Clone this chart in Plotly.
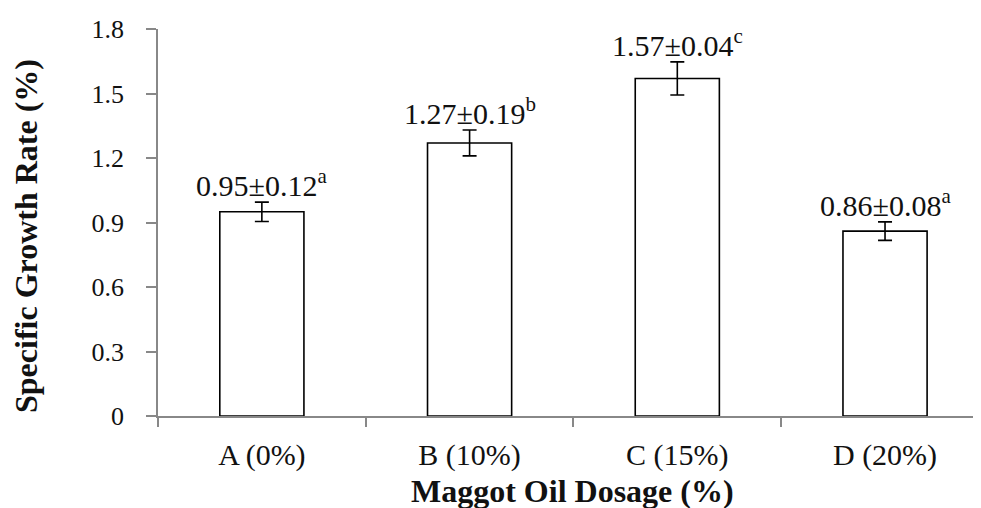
import plotly.graph_objects as go

categories = ["A (0%)", "B (10%)", "C (15%)", "D (20%)"]
means = [0.95, 1.27, 1.57, 0.86]
err_drawn = [0.045, 0.06, 0.077, 0.043]
label_sd = ["0.12", "0.19", "0.04", "0.08"]
label_letters = ["a", "b", "c", "a"]
y_ticks = [0, 0.3, 0.6, 0.9, 1.2, 1.5, 1.8]
y_tick_text = ["0", "0.3", "0.6", "0.9", "1.2", "1.5", "1.8"]

FONT = "Liberation Serif, Times New Roman, serif"
# page has an 8px body margin; compensate
W, H = 973, 500
ML, MT, MB, MR = 150, 21, 92, 0
PX0, PY0 = 158, 29          # plot-area origin in page pixels
plot_w = W - ML - MR
plot_h = H - MT - MB
PYB = PY0 + plot_h          # plot bottom in page pixels

fig = go.Figure()
fig.add_trace(go.Bar(
    x=categories, y=means,
    marker=dict(color="white", line=dict(color="black", width=1.6)),
    error_y=dict(type="data", array=err_drawn, visible=True,
                 color="black", thickness=1.6, width=7),
    width=0.405,
))

for cat, m, e, sd, let in zip(categories, means, err_drawn, label_sd, label_letters):
    fig.add_annotation(
        x=cat, y=m + e, xref="x", yref="y",
        text=f"{m:.2f}±{sd}<sup>{let}</sup>",
        showarrow=False, yanchor="bottom", yshift=-2,
        font=dict(family=FONT, size=30, color="#111"),
    )

fig.add_annotation(
    x=(26 - PX0) / plot_w, y=(PYB - 236) / plot_h, xref="paper", yref="paper",
    text="<b>Specific Growth Rate (%)</b>", textangle=-90, showarrow=False,
    xanchor="center", yanchor="middle",
    font=dict(family=FONT, size=32, color="#111"),
)
fig.add_annotation(
    x=(572 - PX0) / plot_w, y=(PYB - 491) / plot_h, xref="paper", yref="paper",
    text="<b>Maggot Oil Dosage (%)</b>", showarrow=False,
    xanchor="center", yanchor="middle",
    font=dict(family=FONT, size=32, color="#111"),
)

fig.update_layout(
    width=W, height=H,
    margin=dict(l=ML, r=MR, t=MT, b=MB, pad=0),
    plot_bgcolor="white", paper_bgcolor="white",
    showlegend=False,
    font=dict(family=FONT, color="#111"),
)
fig.update_xaxes(
    type="category", range=[-0.5, 3.462],
    showline=True, linecolor="#888", linewidth=1.5,
    ticks="outside", tickson="boundaries", ticklen=9, tickcolor="#888", tickwidth=1.5,
    tickfont=dict(family=FONT, size=30, color="#111"),
    showgrid=False, zeroline=False, ticklabelstandoff=11,
)
fig.update_yaxes(
    range=[0, 1.8], tickvals=y_ticks, ticktext=y_tick_text,
    showline=True, linecolor="#888", linewidth=1.5,
    ticks="outside", ticklen=10, tickcolor="#888", tickwidth=1.5,
    tickfont=dict(family=FONT, size=26, color="#111"),
    showgrid=False, zeroline=False, ticklabelstandoff=17,
)

fig.write_html("out.html")
